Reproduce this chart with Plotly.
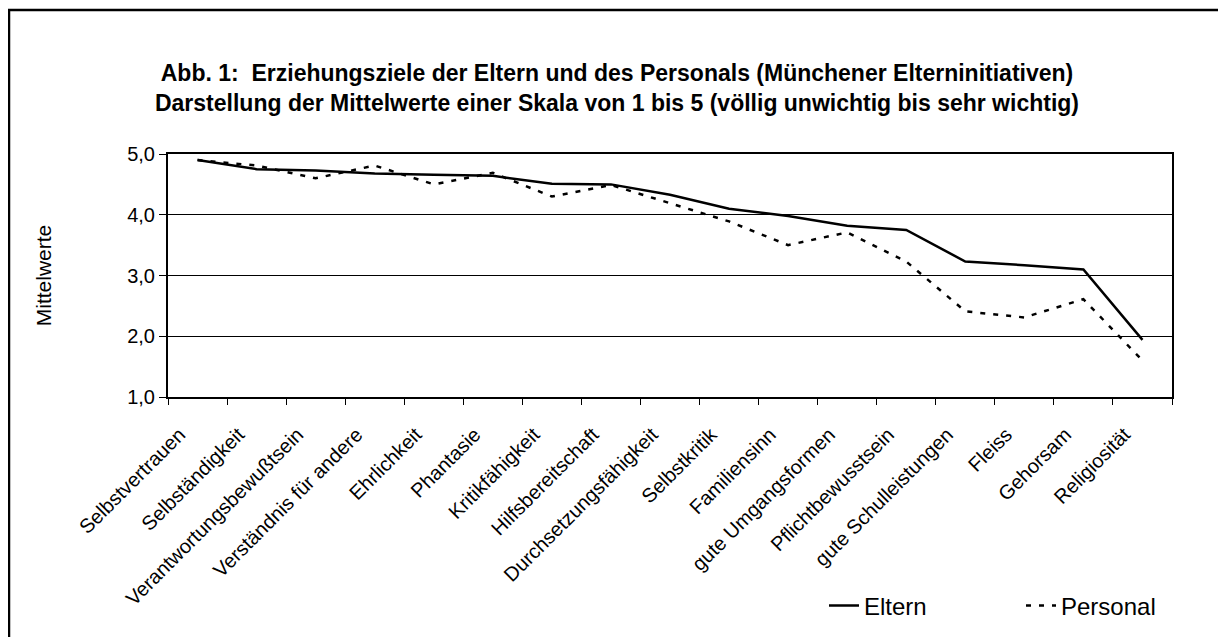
import plotly.graph_objects as go

categories = [
    "Selbstvertrauen", "Selbständigkeit", "Verantwortungsbewußtsein",
    "Verständnis für andere", "Ehrlichkeit", "Phantasie", "Kritikfähigkeit",
    "Hilfsbereitschaft", "Durchsetzungsfähigkeit", "Selbstkritik",
    "Familiensinn", "gute Umgangsformen", "Pflichtbewusstsein",
    "gute Schulleistungen", "Fleiss", "Gehorsam", "Religiosität",
]
eltern = [4.90, 4.75, 4.73, 4.68, 4.66, 4.64, 4.51, 4.50, 4.33, 4.10,
          3.98, 3.82, 3.75, 3.23, 3.17, 3.10, 1.94]
personal = [4.90, 4.81, 4.60, 4.81, 4.50, 4.69, 4.30, 4.49, 4.19, 3.89,
            3.50, 3.71, 3.23, 2.41, 2.31, 2.61, 1.60]
y_ticks = [1, 2, 3, 4, 5]

FONT = "Liberation Sans, Arial, sans-serif"

fig = go.Figure()
fig.add_trace(go.Scatter(
    x=categories, y=eltern, name="Eltern", mode="lines",
    line=dict(color="black", width=2.5),
))
fig.add_trace(go.Scatter(
    x=categories, y=personal, name="Personal", mode="lines",
    line=dict(color="black", width=2.5, dash="5px,8px"),
))

# page body has an 8px margin, so the figure is drawn 8px right/down
OFF = 8
W, H = 1226 - OFF, 637 - OFF
L, R, T, B = 160, 54, 146, 240
pw, ph = W - L - R, H - T - B

def px_x(p):  # screen pixel -> paper x
    return (p - OFF - L) / pw

def px_y(p):  # screen pixel -> paper y
    return (H - B - (p - OFF)) / ph

fig.update_layout(
    width=W, height=H,
    margin=dict(l=L, r=R, t=T, b=B, autoexpand=False),
    paper_bgcolor="white", plot_bgcolor="white",
    separators=",.",
    font=dict(family=FONT, size=20, color="black"),
    title=dict(
        text="<b>Abb. 1:  Erziehungsziele der Eltern und des Personals (Münchener Elterninitiativen)<br>"
             "Darstellung der Mittelwerte einer Skala von 1 bis 5 (völlig unwichtig bis sehr wichtig)</b>",
        x=0.5, xanchor="center", xref="container",
        y=1 - 73 / H, yanchor="middle", yref="container",
        font=dict(family=FONT, size=23, color="black"),
    ),
    showlegend=True,
    legend=dict(
        orientation="h",
        xref="container", x=(824 - OFF) / W, xanchor="left",
        yref="container", y=1 - (606 - OFF) / H, yanchor="middle",
        font=dict(family=FONT, size=24, color="black"),
        entrywidth=152, entrywidthmode="pixels",
        bgcolor="rgba(0,0,0,0)",
    ),
    xaxis=dict(
        type="category", categoryorder="array", categoryarray=categories,
        range=[-0.5, len(categories) - 0.5],
        tickangle=-45, tickson="boundaries", ticks="outside", ticklen=6,
        tickwidth=1, tickcolor="black",
        ticklabelstandoff=16, ticklabelshift=-18,
        showline=True, linecolor="black", linewidth=2, mirror=True,
        showgrid=False, zeroline=False, automargin=False,
        tickfont=dict(family=FONT, size=20, color="black"),
    ),
    yaxis=dict(
        range=[1, 5], tickvals=y_ticks, tickformat=".1f",
        ticks="outside", ticklen=7, tickwidth=1, tickcolor="black",
        showline=True, linecolor="black", linewidth=2, mirror=True,
        showgrid=True, gridcolor="black", gridwidth=1, zeroline=False,
        automargin=False,
        tickfont=dict(family=FONT, size=20, color="black"),
        title=dict(text="Mittelwerte", standoff=70,
                   font=dict(family=FONT, size=21, color="black")),
    ),
    shapes=[dict(
        type="rect", xref="paper", yref="paper",
        x0=px_x(9), x1=px_x(1260), y0=px_y(680), y1=px_y(10),
        line=dict(color="black", width=2.5), fillcolor="rgba(0,0,0,0)",
        layer="below",
    )],
)

fig.write_html("out.html")
